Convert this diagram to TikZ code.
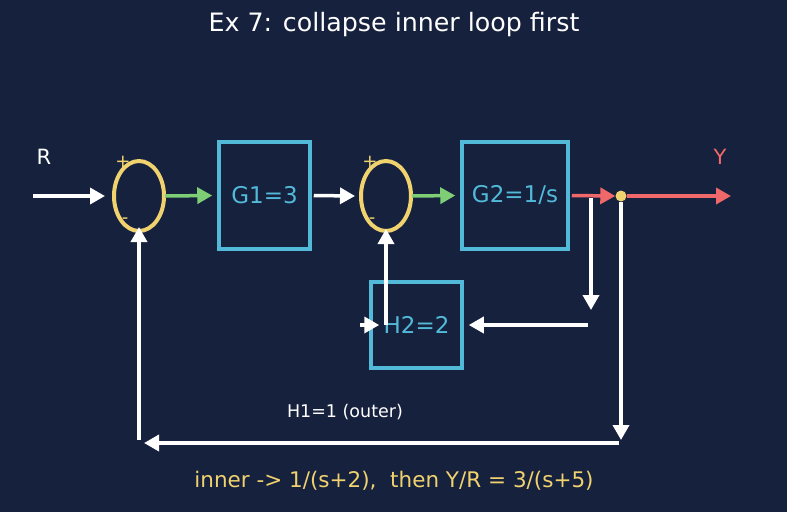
\documentclass[tikz,border=0pt]{standalone}
\usepackage{fontspec}
\setmainfont{DejaVu Sans}
\usetikzlibrary{shapes.geometric}
\usetikzlibrary{arrows.meta}
\definecolor{bgnavy}{RGB}{22,33,62}
\definecolor{sumyellow}{RGB}{240,210,110}
\definecolor{boxcyan}{RGB}{82,186,216}
\definecolor{siggreen}{RGB}{126,206,118}
\definecolor{sigred}{RGB}{240,104,106}
\tikzset{
	sum/.style={ellipse,draw=sumyellow,line width=4pt,minimum width=50pt,minimum height=70pt,inner sep=0pt},
	blk/.style={rectangle,draw=boxcyan,line width=3.5pt,text=boxcyan,font=\fontsize{23}{26}\selectfont,inner sep=0pt},
	sgn/.style={text=sumyellow,font=\fontsize{18}{20}\selectfont,inner sep=0pt},
	junc/.style={circle,fill=sumyellow,inner sep=0pt,minimum size=11pt},
	lbl/.style={font=\fontsize{21}{24}\selectfont,inner sep=0pt},
	sig/.style={line width=3.5pt,white,-{Triangle[length=15pt,width=16pt]}},
	sigg/.style={sig,siggreen},
	sigr/.style={sig,sigred},
	}
\begin{document}
\begin{tikzpicture}[x=1pt,y=-1pt]
 \fill[bgnavy] (0,0) rectangle (787,512);
 \useasboundingbox (0,0) rectangle (787,512);

\node (title) at (394,25) [white,font=\fontsize{25.3}{28}\selectfont] {Ex 7: collapse inner loop first};

% forward path
\node (s1) at (139,196) [sum] {};
\node (g1) at (264.5,195.5) [blk,minimum width=91pt,minimum height=107pt] {G1=3};
\node (s2) at (386,196) [sum] {};
\node (g2) at (515,195.5) [blk,minimum width=106pt,minimum height=107pt] {G2=1/s};
\node (h2) at (416.5,325) [blk,minimum width=91pt,minimum height=86pt] {H2=2};
\node (dot) at (621,196) [junc] {};

\node (p1) at (123,162) [sgn] {+};
\node (m1) at (125,221) [sgn] {-};
\node (p2) at (370,162) [sgn] {+};
\node (m2) at (372,221) [sgn] {-};

\node (r) at (44,157) [lbl,white] {R};
\node (y) at (720,157) [lbl,sigred] {Y};
\node (h1) at (345,412) [white,font=\fontsize{17.5}{20}\selectfont] {H1=1 (outer)};
\node (note) at (394,481) [sumyellow,font=\fontsize{21.5}{24}\selectfont] {inner -> 1/(s+2),\ \ then Y/R = 3/(s+5)};

\coordinate (rin) at (33,196);
\coordinate (yout) at (731,196);
\coordinate (b1) at (591,198);
\coordinate (b2) at (591,310);
\coordinate (b3) at (588,325);
\coordinate (c1) at (621,440);
\coordinate (c2) at (619,443);
\coordinate (c3) at (144,443);
\coordinate (c4) at (139,440);

 \draw[sig] (rin) -- ([xshift=-7pt]s1.west);
 \draw[sigg] ([xshift=-1pt]s1.east) -- ([xshift=-5pt]g1.west);
 \draw[sig] ([xshift=2pt]g1.east) -- ([xshift=-4pt]s2.west);
 \draw[sigg] ([xshift=-1pt]s2.east) -- ([xshift=-5pt]g2.west);
 \draw[sigr] ([xshift=2pt]g2.east) -- (dot.west);
 \draw[sigr] (dot) -- (yout);
% inner loop
 \draw[sig] (b1) -- (b2);
 \draw[sig] (b3) -- ([xshift=5pt]h2.east);
 \draw[sig] ([xshift=-9pt]h2.west) -- ([xshift=10pt]h2.west);
 \draw[sig] (386,325) -- ([yshift=4pt]s2.south);
% outer loop
 \draw[sig] (dot.south) -- (c1);
 \draw[sig] (c2) -- (c3);
 \draw[sig] (c4) -- ([yshift=6pt]s1.south);
\end{tikzpicture}
\end{document}
